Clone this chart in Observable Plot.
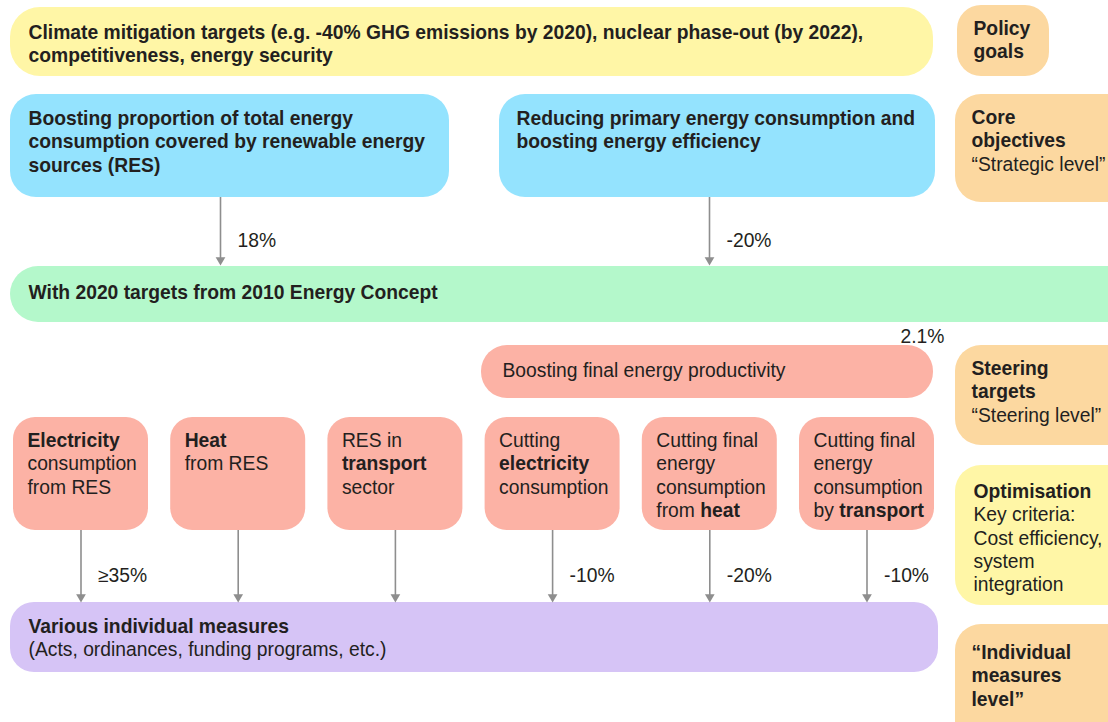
<!DOCTYPE html>
<html><head><meta charset="utf-8">
<script src="https://cdn.jsdelivr.net/npm/d3@7"></script>
<script src="https://cdn.jsdelivr.net/npm/@observablehq/plot@0.6"></script>
<style>html,body{margin:0;padding:0;background:#fff;overflow:hidden}</style>
</head><body><div id="chart"></div>
<script>
// ---------- content (text) ----------
const policyText = "**Climate mitigation targets (e.g. -40% GHG emissions by 2020), nuclear phase-out (by 2022),**\n**competitiveness, energy security**";
const coreTexts = [
  "**Boosting proportion of total energy**\n**consumption covered by renewable energy**\n**sources (RES)**",
  "**Reducing primary energy consumption and**\n**boosting energy efficiency**"
];
const coreTargets = ["18%", "-20%"];
const conceptText = "**With 2020 targets from 2010 Energy Concept**";
const productivityText = "Boosting final energy productivity";
const productivityTarget = "2.1%";
const steeringTexts = [
  "**Electricity**\nconsumption\nfrom RES",
  "**Heat**\nfrom RES",
  "RES in\n**transport**\nsector",
  "Cutting\n**electricity**\nconsumption",
  "Cutting final\nenergy\nconsumption\nfrom **heat**",
  "Cutting final\nenergy\nconsumption\nby **transport**"
];
const steeringTargets = ["≥35%", "", "", "-10%", "-20%", "-10%"];
const measuresText = "**Various individual measures**\n(Acts, ordinances, funding programs, etc.)";
const levelTexts = [
  "**Policy**\n**goals**",
  "**Core**\n**objectives**\n“Strategic level”",
  "**Steering**\n**targets**\n“Steering level”",
  "**Optimisation**\nKey criteria:\nCost efficiency,\nsystem\nintegration",
  "**“Individual**\n**measures**\n**level”**"
];

// ---------- styling / layout ----------
const fills = {policy:"#FFF6A6", core:"#94E3FE", concept:"#B4F8CB", steer:"#FCB2A5", measure:"#D6C4F6", level:"#FCD8A0", optim:"#FFF6A6"};
const ink = "#231F20", arrowGray = "#8E8E8E";
const FS = 19.3, LH = 1.21, TOP_SHIFT = -3;

// box geometry: [x1, x2, y1, y2, radius, textX, textTop]
const geoPolicy = [10, 933, 7, 76, 30, 28, 25];
const geoCore = [[10, 449, 94, 197, 26, 28, 111], [499, 935, 94, 197, 26, 516, 111]];
const geoConcept = [10, 1140, 266, 322, 28, 28, 285];
const geoProd = [481, 933, 345, 398, 26, 502, 363];
const steerX0 = 13, steerStep = 157.2, steerW = 135, steerY = [417, 530], steerTextTop = 433;
const geoMeasure = [10, 938, 602, 672, 24, 28, 619];
const geoLevels = [
  [957, 1049, 5, 76, 24, 973, 21],
  [955, 1140, 94, 202, 26, 971, 110],
  [955, 1140, 345, 445, 26, 971, 361],
  [955, 1140, 465, 605, 26, 973, 484],
  [955, 1140, 624, 760, 26, 971, 645]
];
const coreArrowX = [220, 709], coreArrowY = [197, 263];
const steerArrowY = [530, 600];

// ---------- assemble ----------
const boxes = [];
const add = (g, text, kind) => boxes.push({x1:g[0], x2:g[1], y1:g[2], y2:g[3], r:g[4], tx:g[5], ty:g[6] + TOP_SHIFT, text, fill:fills[kind]});
add(geoPolicy, policyText, "policy");
coreTexts.forEach((t, i) => add(geoCore[i], t, "core"));
add(geoConcept, conceptText, "concept");
add(geoProd, productivityText, "steer");
steeringTexts.forEach((t, i) => {
  const x1 = steerX0 + i * steerStep;
  add([x1, x1 + steerW, steerY[0], steerY[1], 22, x1 + 14, steerTextTop], t, "steer");
});
add(geoMeasure, measuresText, "measure");
levelTexts.forEach((t, i) => add(geoLevels[i], t, i === 3 ? "optim" : "level"));

const arrows = [];
coreTargets.forEach((lab, i) => arrows.push({x: coreArrowX[i], y1: coreArrowY[0], y2: coreArrowY[1], label: lab}));
steeringTargets.forEach((lab, i) => {
  const cx = steerX0 + i * steerStep + steerW / 2;
  arrows.push({x: cx, y1: steerArrowY[0], y2: steerArrowY[1], label: lab});
});
const labels = arrows.filter(a => a.label).map(a => ({x: a.x + 17, y: (a.y1 + a.y2) / 2 + 10, text: a.label}));
labels.push({x: 900, y: 336, text: productivityTarget});

const chart = Plot.plot({
  width: 1108, height: 722, margin: 0,
  x: {domain: [0, 1108], range: [0, 1108], axis: null},
  y: {domain: [0, 722], range: [0, 722], axis: null},
  color: {type: "identity"},
  style: {fontFamily: "'Liberation Sans', Arial, sans-serif", background: "#fff"},
  marks: [
    ...[22, 24, 26, 28, 30].map(r => Plot.rect(boxes.filter(b => b.r === r), {x1: "x1", x2: "x2", y1: "y1", y2: "y2", fill: "fill", rx: r, ry: r, clip: true})),
    Plot.ruleX(arrows, {x: "x", y1: "y1", y2: d => d.y2 - 5, stroke: arrowGray, strokeWidth: 1.6}),
    Plot.dot(arrows, {x: "x", y: d => d.y2 - 3.5, symbol: "triangle", rotate: 180, r: 3.6, fill: arrowGray, stroke: "none"}),
    Plot.text(boxes, {x: "tx", y: "ty", text: "text", textAnchor: "start", lineAnchor: "top", lineHeight: LH, fontSize: FS, fill: ink}),
    Plot.text(labels, {x: "x", y: "y", text: "text", textAnchor: "start", lineAnchor: "middle", fontSize: FS, fill: ink})
  ]
});

// mixed bold segments marked with **...**
function applyBold(node) {
  const s = node.textContent;
  if (!s.includes("**")) return;
  const parts = s.split("**");
  node.textContent = "";
  parts.forEach((p, i) => {
    if (!p) return;
    const t = document.createElementNS("http://www.w3.org/2000/svg", "tspan");
    t.textContent = p;
    if (i % 2 === 1) t.setAttribute("font-weight", "bold");
    node.appendChild(t);
  });
}
chart.querySelectorAll("text").forEach(text => {
  const spans = text.querySelectorAll(":scope > tspan");
  if (spans.length) spans.forEach(applyBold); else applyBold(text);
});
document.getElementById("chart").appendChild(chart);
</script>
</body></html>
